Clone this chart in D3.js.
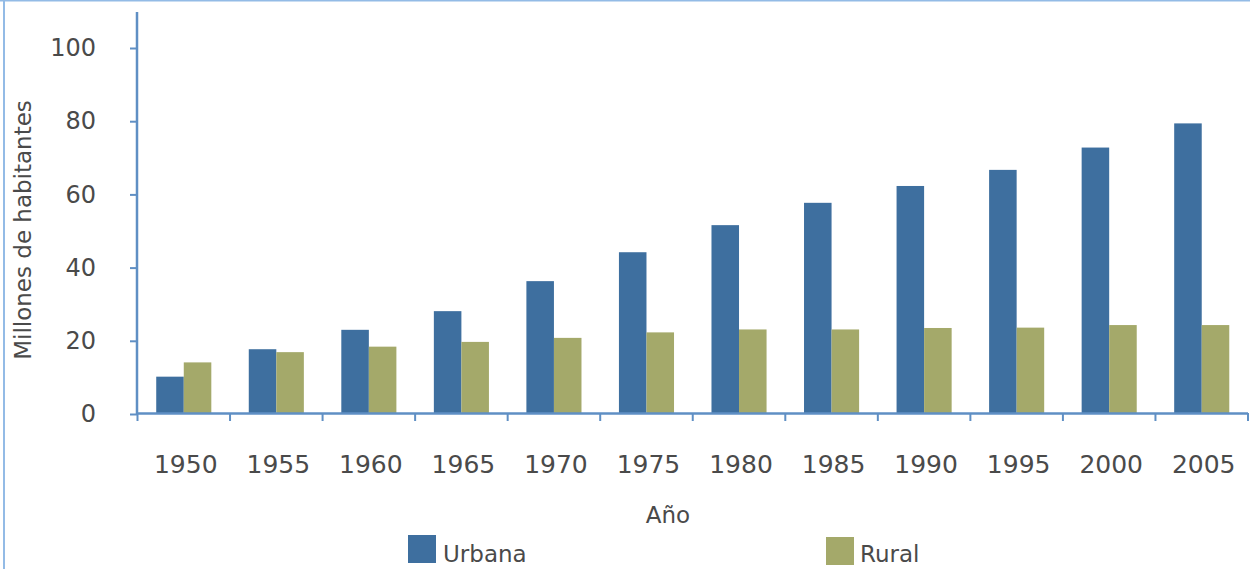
<!DOCTYPE html>
<html>
<head>
<meta charset="utf-8">
<script src="https://cdn.jsdelivr.net/npm/d3@7"></script>
<style>
  html, body { margin: 0; padding: 0; background: #fff; }
  svg { display: block; }
  text { font-family: "DejaVu Sans", Verdana, sans-serif; fill: #4a4a4a; }
</style>
</head>
<body>
<svg id="chart" width="1250" height="569"></svg>
<script>
const years = ["1950","1955","1960","1965","1970","1975","1980","1985","1990","1995","2000","2005"];
const urbana = [10.2, 17.7, 23.0, 28.1, 36.3, 44.2, 51.6, 57.7, 62.3, 66.7, 72.8, 79.4];
const rural  = [14.1, 16.9, 18.4, 19.7, 20.8, 22.3, 23.1, 23.1, 23.5, 23.6, 24.3, 24.3];
const seriesNames = ["Urbana", "Rural"];
const yTicks = [0, 20, 40, 60, 80, 100];
const colors = ["#3e6f9f", "#a4a96a"];

const svg = d3.select("#chart");

// frame lines (top & left)
svg.append("line").attr("x1", 0).attr("x2", 1250).attr("y1", 0.5).attr("y2", 0.5)
  .attr("stroke", "#93bbe6").attr("stroke-width", 2);
svg.append("line").attr("x1", 4).attr("x2", 4).attr("y1", 0).attr("y2", 569)
  .attr("stroke", "#93bbe6").attr("stroke-width", 2);

const x0 = d3.scaleBand().domain(years).range([137.5, 1248]).padding(0);
const x1 = d3.scaleBand().domain(seriesNames).range([0, x0.bandwidth()])
  .paddingInner(0).paddingOuter(0.68);
const y = d3.scaleLinear().domain([0, 100]).range([414, 48]);

const data = years.map((yr, i) => ({ year: yr, values: [urbana[i], rural[i]] }));

// bars
const groups = svg.append("g").selectAll("g").data(data).join("g")
  .attr("transform", d => `translate(${x0(d.year)},0)`);
groups.selectAll("rect").data(d => d.values.map((v, k) => ({ key: seriesNames[k], v, k })))
  .join("rect")
  .attr("x", d => x1(d.key))
  .attr("width", x1.bandwidth())
  .attr("y", d => y(d.v))
  .attr("height", d => y(0) - y(d.v))
  .attr("fill", d => colors[d.k]);

const axisColor = "#5f8fc4";

// y axis
const yAxis = svg.append("g").attr("transform", "translate(137,0)")
  .call(d3.axisLeft(y).tickValues(yTicks).tickSize(7).tickSizeOuter(0).tickPadding(34));
yAxis.select(".domain").remove();
yAxis.append("line").attr("x1", 0).attr("x2", 0).attr("y1", 12).attr("y2", 414)
  .attr("stroke", axisColor).attr("stroke-width", 2.5);
yAxis.selectAll(".tick line").attr("stroke", axisColor).attr("stroke-width", 2);
yAxis.selectAll(".tick text").attr("font-size", 24)
  .attr("font-family", "DejaVu Sans, sans-serif").attr("fill", "#4d4d4d");

// x axis (ticks at band boundaries)
const xg = svg.append("g");
xg.append("line").attr("x1", 137).attr("x2", 1248).attr("y1", 413.5).attr("y2", 413.5)
  .attr("stroke", axisColor).attr("stroke-width", 2.5);
const bounds = years.map(d => x0(d)).concat([x0(years[years.length - 1]) + x0.bandwidth()]);
xg.selectAll("line.tk").data(bounds).join("line").attr("class", "tk")
  .attr("x1", d => d).attr("x2", d => d).attr("y1", 413).attr("y2", 421)
  .attr("stroke", axisColor).attr("stroke-width", 2);
xg.selectAll("text").data(years).join("text")
  .attr("x", d => x0(d) + x0.bandwidth() / 2 + 2)
  .attr("y", 473)
  .attr("text-anchor", "middle")
  .attr("font-size", 25)
  .attr("fill", "#4d4d4d")
  .text(d => d);

// axis titles
svg.append("text").attr("transform", "translate(31,230) rotate(-90)")
  .attr("text-anchor", "middle").attr("font-size", 23).attr("fill", "#5a5a5a")
  .text("Millones de habitantes");
svg.append("text").attr("x", 668).attr("y", 523).attr("text-anchor", "middle")
  .attr("font-size", 23).attr("fill", "#5a5a5a").text("Año");

// legend
const legendPos = [{ x: 408, tx: 443 }, { x: 826, tx: 860 }];
const lg = svg.append("g").selectAll("g").data(seriesNames).join("g");
lg.append("rect").attr("x", (d, i) => legendPos[i].x).attr("y", (d, i) => 535 + i * 2)
  .attr("width", 28).attr("height", 28).attr("fill", (d, i) => colors[i]);
lg.append("text").attr("x", (d, i) => legendPos[i].tx).attr("y", 562)
  .attr("font-size", 23).attr("fill", "#5a5a5a").text(d => d);
</script>
</body>
</html>
